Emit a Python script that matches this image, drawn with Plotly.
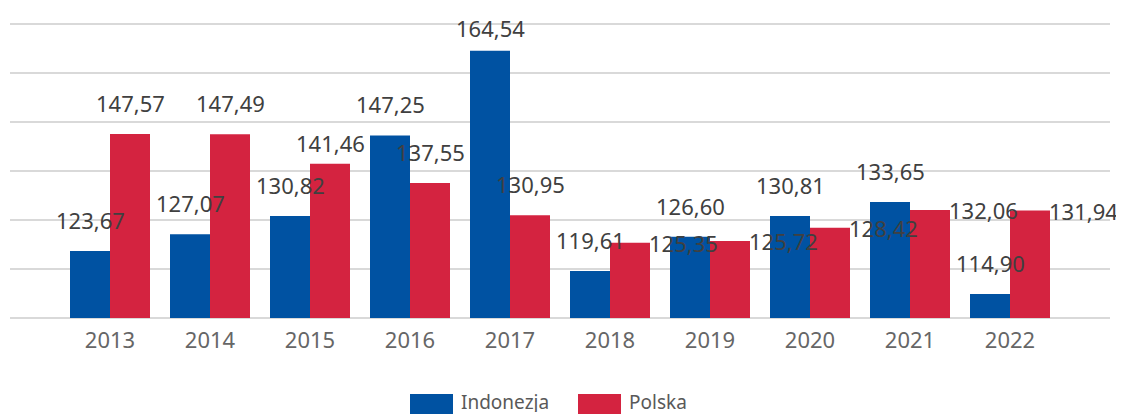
import plotly.graph_objects as go

years = ["2013", "2014", "2015", "2016", "2017", "2018", "2019", "2020", "2021", "2022"]
series_names = ["Indonezja", "Polska"]
indonezja = [123.67, 127.07, 130.82, 147.25, 164.54, 119.61, 126.60, 130.81, 133.65, 114.90]
polska = [147.57, 147.49, 141.46, 137.55, 130.95, 125.35, 125.72, 128.42, 132.06, 131.94]
y_min, y_max = 110, 170

# label placement for Polska labels: "top" above bar, "right" beside bar top
polska_label_mode = ["top", "top", "top", "top", "top", "right", "right", "right", "right", "right"]

BLUE = "#0052A2"
RED = "#D42340"
FONT = "Noto Sans, Open Sans, sans-serif"

def fmt(v):
    return f"{v:.2f}".replace(".", ",")

fig = go.Figure()
fig.add_trace(go.Bar(x=years, y=[v - y_min for v in indonezja], base=y_min, name=series_names[0],
                     marker=dict(color=BLUE, line=dict(width=0))))
fig.add_trace(go.Bar(x=years, y=[v - y_min for v in polska], base=y_min, name=series_names[1],
                     marker=dict(color=RED, line=dict(width=0))))

# page has an 8px body margin; plot area in page pixels
OFF = 8
W = 1124 - OFF
H = 414 - OFF
PL, PR, PT, PB = 10, 1110, 22, 320
PW, PH = PR - PL, PB - PT
pad = 0.4  # range padding so edge gridlines are drawn

annotations = []
half = 20  # half bar width in px
lab_font = dict(family=FONT, size=22, color="#404040")
for i, yr in enumerate(years):
    v = indonezja[i]
    ys = 23 if v > 160 else 31
    annotations.append(dict(x=i, y=v, xref="x", yref="y", text=fmt(v), showarrow=False,
                            xshift=-half, yshift=ys, xanchor="center", yanchor="middle",
                            font=lab_font))
    v = polska[i]
    if polska_label_mode[i] == "top":
        ys = 21 if i == 2 else 31
        annotations.append(dict(x=i, y=v, xref="x", yref="y", text=fmt(v), showarrow=False,
                                xshift=half, yshift=ys, xanchor="center", yanchor="middle",
                                font=lab_font))
    else:
        annotations.append(dict(x=i, y=v, xref="x", yref="y", text=fmt(v), showarrow=False,
                                xshift=2 * half - 3, yshift=0, xanchor="left", yanchor="middle",
                                font=lab_font))

# custom legend (large swatches)
legend_items = [(series_names[0], BLUE, 410), (series_names[1], RED, 578)]
shapes = []
for name, col, px in legend_items:
    shapes.append(dict(type="rect", xref="paper", yref="paper",
                       x0=(px - PL) / PW, x1=(px + 43 - PL) / PW,
                       y0=-(414 - PB) / PH, y1=-(394 - PB) / PH,
                       fillcolor=col, line=dict(width=0)))
    annotations.append(dict(x=(px + 43 + 7 - PL) / PW, y=-(402 - PB) / PH, xref="paper", yref="paper",
                            text=name, showarrow=False, xanchor="left", yanchor="middle",
                            height=20, borderpad=0,
                            font=dict(family=FONT, size=19, color="#595959")))

fig.update_layout(
    width=W, height=H,
    margin=dict(l=PL - OFF, r=1124 - PR, t=PT - OFF, b=414 - PB),
    plot_bgcolor="white", paper_bgcolor="white",
    barmode="group", bargap=0.2, bargroupgap=0,
    showlegend=False,
    annotations=annotations,
    shapes=shapes,
    xaxis=dict(type="category", range=[-1, 10], showgrid=False, zeroline=False, showline=False,
               ticks="outside", ticklen=1, tickcolor="rgba(0,0,0,0)",
               tickfont=dict(family=FONT, size=22, color="#666666")),
    yaxis=dict(range=[y_min - pad, y_max + pad], dtick=10, tick0=y_min, showticklabels=False, showgrid=True,
               gridcolor="#D9D9D9", gridwidth=1.5, zeroline=False, showline=False),
)

fig.write_html("out.html")
